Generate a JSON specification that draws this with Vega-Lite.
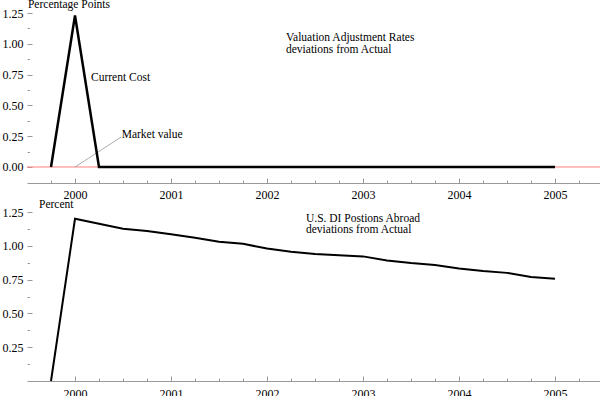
{
  "$schema": "https://vega.github.io/schema/vega-lite/v6.json",
  "padding": {"left": 2, "top": -2, "right": 0, "bottom": 0},
  "spacing": 25,
  "bounds": "flush",
  "background": "white",
  "config": {
    "view": {"stroke": null},
    "font": "Liberation Serif",
    "axis": {
      "grid": false,
      "title": null,
      "labelFont": "Liberation Serif",
      "labelFontSize": 12,
      "labelColor": "black",
      "domainColor": "#999999",
      "tickColor": "#999999",
      "labelFlush": false,
      "labelOverlap": false
    }
  },
  "datasets": {
    "top": [
      {"t": 1999.75, "v": 0}, {"t": 2000, "v": 1.23}, {"t": 2000.25, "v": 0}, {"t": 2000.5, "v": 0},
      {"t": 2000.75, "v": 0}, {"t": 2001, "v": 0}, {"t": 2001.25, "v": 0}, {"t": 2001.5, "v": 0},
      {"t": 2001.75, "v": 0}, {"t": 2002, "v": 0}, {"t": 2002.25, "v": 0}, {"t": 2002.5, "v": 0},
      {"t": 2002.75, "v": 0}, {"t": 2003, "v": 0}, {"t": 2003.25, "v": 0}, {"t": 2003.5, "v": 0},
      {"t": 2003.75, "v": 0}, {"t": 2004, "v": 0}, {"t": 2004.25, "v": 0}, {"t": 2004.5, "v": 0},
      {"t": 2004.75, "v": 0}, {"t": 2005, "v": 0}
    ],
    "bottom": [
      {"t": 1999.75, "v": 0}, {"t": 2000, "v": 1.2}, {"t": 2000.25, "v": 1.163}, {"t": 2000.5, "v": 1.127},
      {"t": 2000.75, "v": 1.11}, {"t": 2001, "v": 1.085}, {"t": 2001.25, "v": 1.06}, {"t": 2001.5, "v": 1.03},
      {"t": 2001.75, "v": 1.015}, {"t": 2002, "v": 0.98}, {"t": 2002.25, "v": 0.956}, {"t": 2002.5, "v": 0.94},
      {"t": 2002.75, "v": 0.93}, {"t": 2003, "v": 0.922}, {"t": 2003.25, "v": 0.892}, {"t": 2003.5, "v": 0.873},
      {"t": 2003.75, "v": 0.858}, {"t": 2004, "v": 0.833}, {"t": 2004.25, "v": 0.814}, {"t": 2004.5, "v": 0.8},
      {"t": 2004.75, "v": 0.77}, {"t": 2005, "v": 0.757}
    ],
    "zero": [{"v": 0}],
    "pointer": [{"t": 2000, "v": 0, "t2": 2000.48, "v2": 0.243}],
    "topText": [
      {"t": 1999.51, "v": 1.315, "text": "Percentage Points"},
      {"t": 2000.167, "v": 0.72, "text": "Current Cost"},
      {"t": 2000.486, "v": 0.262, "text": "Market value"},
      {"t": 2002.198, "v": 1.045, "text": "Valuation Adjustment Rates"},
      {"t": 2002.198, "v": 0.947, "text": "deviations from Actual"}
    ],
    "bottomText": [
      {"t": 1999.625, "v": 1.302, "text": "Percent"},
      {"t": 2002.406, "v": 1.196, "text": "U.S. DI Postions Abroad"},
      {"t": 2002.406, "v": 1.117, "text": "deviations from Actual"}
    ]
  },
  "vconcat": [
    {
      "width": 576,
      "height": 170,
      "resolve": {"axis": {"x": "independent", "y": "independent"}},
      "layer": [
        {
          "data": {"name": "zero"},
          "mark": {"type": "rule", "color": "#ff8080", "strokeWidth": 1},
          "encoding": {
            "y": {"field": "v", "type": "quantitative", "scale": {"domain": [-0.13, 1.25], "nice": false, "zero": false}, "axis": null}
          }
        },
        {
          "data": {"name": "pointer"},
          "mark": {"type": "rule", "color": "#888888", "strokeWidth": 0.7},
          "encoding": {
            "x": {"field": "t", "type": "quantitative", "axis": null},
            "x2": {"field": "t2"},
            "y": {"field": "v", "type": "quantitative", "axis": null},
            "y2": {"field": "v2"}
          }
        },
        {
          "data": {"name": "top"},
          "mark": {"type": "line", "color": "black", "strokeWidth": 2.5, "strokeJoin": "miter"},
          "encoding": {
            "x": {
              "field": "t", "type": "quantitative",
              "scale": {"domain": [1999.5, 2005.5], "nice": false, "zero": false},
              "axis": {
                "orient": "bottom",
                "values": [2000, 2001, 2002, 2003, 2004, 2005],
                "format": "d",
                "tickSize": -5,
                "labelPadding": 11
              }
            },
            "y": {
              "field": "v", "type": "quantitative",
              "scale": {"domain": [-0.13, 1.25], "nice": false, "zero": false},
              "axis": {
                "orient": "left",
                "values": [0, 0.25, 0.5, 0.75, 1, 1.25],
                "format": ".2f",
                "tickSize": -5,
                "labelPadding": 9,
                "domain": false
              }
            }
          }
        },
        {
          "data": {"name": "topText"},
          "mark": {"type": "text", "align": "left", "baseline": "middle", "font": "Liberation Serif", "fontSize": 11.5, "color": "black"},
          "encoding": {
            "x": {
              "field": "t", "type": "quantitative",
              "axis": {
                "orient": "bottom",
                "values": [1999.75, 2000.25, 2000.5, 2000.75, 2001.25, 2001.5, 2001.75, 2002.25, 2002.5, 2002.75, 2003.25, 2003.5, 2003.75, 2004.25, 2004.5, 2004.75, 2005.25],
                "labels": false,
                "domain": false,
                "tickSize": -3
              }
            },
            "y": {
              "field": "v", "type": "quantitative",
              "axis": {
                "orient": "left",
                "values": [0.125, 0.375, 0.625, 0.875, 1.125],
                "labels": false,
                "domain": false,
                "tickSize": -2.5
              }
            },
            "text": {"field": "text"}
          }
        }
      ]
    },
    {
      "width": 576,
      "height": 173,
      "resolve": {"axis": {"x": "independent", "y": "independent"}},
      "layer": [
        {
          "data": {"name": "bottom"},
          "mark": {"type": "line", "color": "black", "strokeWidth": 2, "strokeJoin": "miter"},
          "encoding": {
            "x": {
              "field": "t", "type": "quantitative",
              "scale": {"domain": [1999.5, 2005.5], "nice": false, "zero": false},
              "axis": {
                "orient": "bottom",
                "values": [2000, 2001, 2002, 2003, 2004, 2005],
                "format": "d",
                "tickSize": -5,
                "labelPadding": 12
              }
            },
            "y": {
              "field": "v", "type": "quantitative",
              "scale": {"domain": [0, 1.28], "nice": false, "zero": false},
              "axis": {
                "orient": "left",
                "values": [0.25, 0.5, 0.75, 1, 1.25],
                "format": ".2f",
                "tickSize": -5,
                "labelPadding": 9,
                "domain": false
              }
            }
          }
        },
        {
          "data": {"name": "bottomText"},
          "mark": {"type": "text", "align": "left", "baseline": "middle", "font": "Liberation Serif", "fontSize": 11.5, "color": "black"},
          "encoding": {
            "x": {
              "field": "t", "type": "quantitative",
              "axis": {
                "orient": "bottom",
                "values": [1999.75, 2000.25, 2000.5, 2000.75, 2001.25, 2001.5, 2001.75, 2002.25, 2002.5, 2002.75, 2003.25, 2003.5, 2003.75, 2004.25, 2004.5, 2004.75, 2005.25],
                "labels": false,
                "domain": false,
                "tickSize": -3
              }
            },
            "y": {
              "field": "v", "type": "quantitative",
              "axis": {
                "orient": "left",
                "values": [0.125, 0.375, 0.625, 0.875, 1.125],
                "labels": false,
                "domain": false,
                "tickSize": -2.5
              }
            },
            "text": {"field": "text"}
          }
        }
      ]
    }
  ]
}
